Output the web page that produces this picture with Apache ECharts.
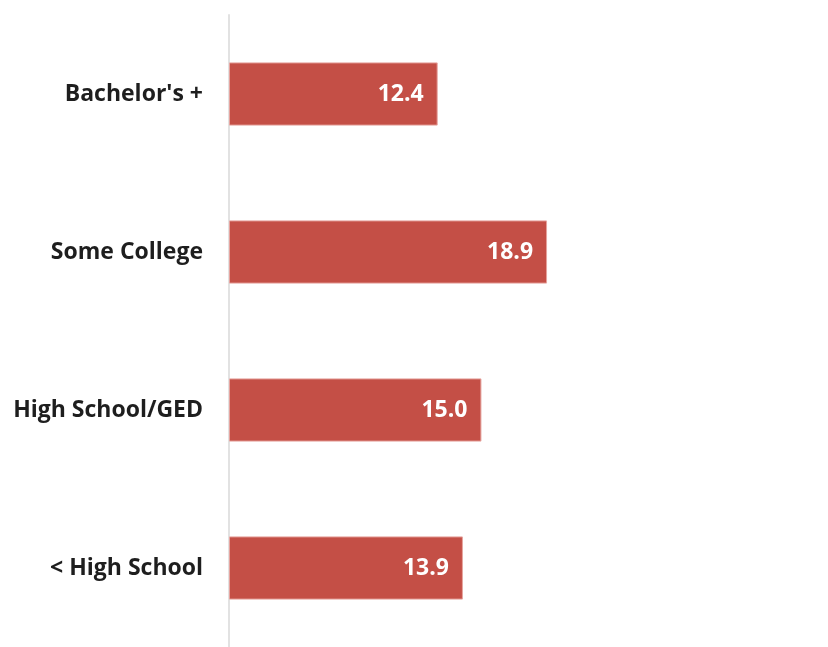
<!DOCTYPE html>
<html>
<head>
<meta charset="utf-8">
<script src="https://cdn.jsdelivr.net/npm/echarts@6/dist/echarts.min.js"></script>
<style>
  html, body { margin: 0; padding: 0; background: #fff; }
  #chart { width: 828px; height: 647px; }
</style>
</head>
<body>
<div id="chart"></div>
<script>
// categories listed bottom to top (category axis on y runs upward)
var categories = ['< High School', 'High School/GED', 'Some College', "Bachelor's +"];
var values = [13.9, 15.0, 18.9, 12.4];

var chart = echarts.init(document.getElementById('chart'));
var options = {
    animation: false,
    grid: {
        left: 229,
        right: 10,
        top: 15,
        bottom: 0
    },
    xAxis: {
        type: 'value',
        min: 0,
        max: 35,
        show: false
    },
    yAxis: {
        type: 'category',
        data: categories,
        axisLine: {
            show: true,
            lineStyle: { color: '#e2e2e2', width: 2 }
        },
        axisTick: { show: false },
        axisLabel: {
            margin: 26,
            color: '#1e1e1e',
            fontFamily: 'Open Sans',
            fontWeight: 'bold',
            fontSize: 23
        }
    },
    series: [{
        type: 'bar',
        data: values,
        barWidth: '40%',
        itemStyle: {
            color: '#c44f46',
            borderColor: '#e6a49f',
            borderWidth: 1
        },
        label: {
            show: true,
            position: 'insideRight',
            distance: 14,
            color: '#fff',
            fontFamily: 'Open Sans',
            fontWeight: 'bold',
            fontSize: 23,
            formatter: function (p) {
                return p.value.toFixed(1);
            }
        }
    }]
};
chart.setOption(options);
</script>
</body>
</html>
